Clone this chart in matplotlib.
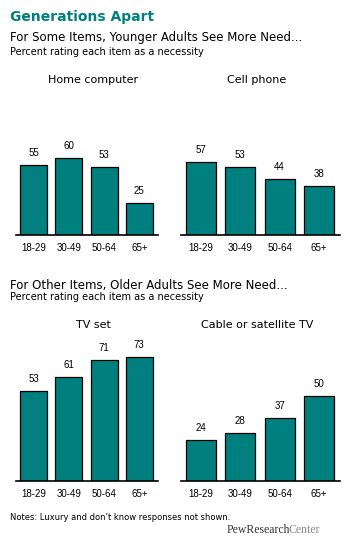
import matplotlib
matplotlib.use("Agg")
import matplotlib.pyplot as plt

ages = ["18-29", "30-49", "50-64", "65+"]
home_computer = [55, 60, 53, 25]
cell_phone = [57, 53, 44, 38]
tv_set = [53, 61, 71, 73]
cable_tv = [24, 28, 37, 50]

TEAL = "#007f7f"
W, H = 349, 554

fig = plt.figure(figsize=(W / 100, H / 100), dpi=100)
fig.patch.set_facecolor("white")


def px_axes(x0, x1, y_top, y_base):
    # pixel coords (origin top-left) -> figure fraction
    return fig.add_axes([x0 / W, 1 - y_base / H, (x1 - x0) / W, (y_base - y_top) / H])


def panel(ax, vals, ymax, width):
    ax.bar(range(len(ages)), vals, width=width, color=TEAL, edgecolor="black", linewidth=0.9)
    ax.set_xlim(-0.5, 3.53)
    ax.set_ylim(0, ymax)
    for s in ["top", "right", "left"]:
        ax.spines[s].set_visible(False)
    ax.spines["bottom"].set_linewidth(1.2)
    ax.set_yticks([])
    ax.set_xticks(range(len(ages)))
    ax.set_xticklabels(ages, fontsize=7, family="Liberation Sans")
    ax.tick_params(axis="x", length=0, pad=6)
    for i, v in enumerate(vals):
        ax.annotate(str(v), (i, v), xytext=(0, 5), textcoords="offset points",
                    ha="center", va="bottom", fontsize=7, family="Liberation Sans")


# top row: 1.28 px per unit, bottom row: 1.70 px per unit
ax1 = px_axes(16, 158, 135, 235)
panel(ax1, home_computer, 100 / 1.28, 0.765)
ax2 = px_axes(181, 340, 135, 235)
panel(ax2, cell_phone, 100 / 1.28, 0.76)
ax3 = px_axes(16, 158, 351, 481)
panel(ax3, tv_set, 130 / 1.70, 0.765)
ax4 = px_axes(181, 340, 351, 481)
panel(ax4, cable_tv, 130 / 1.70, 0.76)


def txt(x, y, s, **kw):
    return fig.text(x / W, 1 - y / H, s, **kw)


txt(10, 17, "Generations Apart", fontsize=10, fontweight="bold", color=TEAL, va="center")
txt(10, 38, "For Some Items, Younger Adults See More Need...", fontsize=8.5, va="center")
txt(10, 52, "Percent rating each item as a necessity", fontsize=7, va="center")
txt(93, 80, "Home computer", fontsize=8, va="center", ha="center")
txt(257, 80, "Cell phone", fontsize=8, va="center", ha="center")

txt(10, 285, "For Other Items, Older Adults See More Need...", fontsize=8.5, va="center")
txt(10, 297, "Percent rating each item as a necessity", fontsize=7, va="center")
txt(93, 325, "TV set", fontsize=8, va="center", ha="center")
txt(257, 325, "Cable or satellite TV", fontsize=8, va="center", ha="center")

txt(10, 517, "Notes: Luxury and don\u2019t know responses not shown.", fontsize=6, va="center")

# logo: dark "PewResearch" followed directly by grey "Center"
pew = txt(227, 533, "PewResearch", fontsize=8.5, family="Liberation Serif",
          color="#333333", va="baseline")
ax1.annotate("Center", xy=(1, 0), xycoords=pew, xytext=(-1.5, 0),
             textcoords="offset points", va="bottom", ha="left",
             fontsize=8.5, family="Liberation Serif", color="#8a8a8a",
             annotation_clip=False)

fig.savefig("out.png", dpi=100, facecolor="white")
